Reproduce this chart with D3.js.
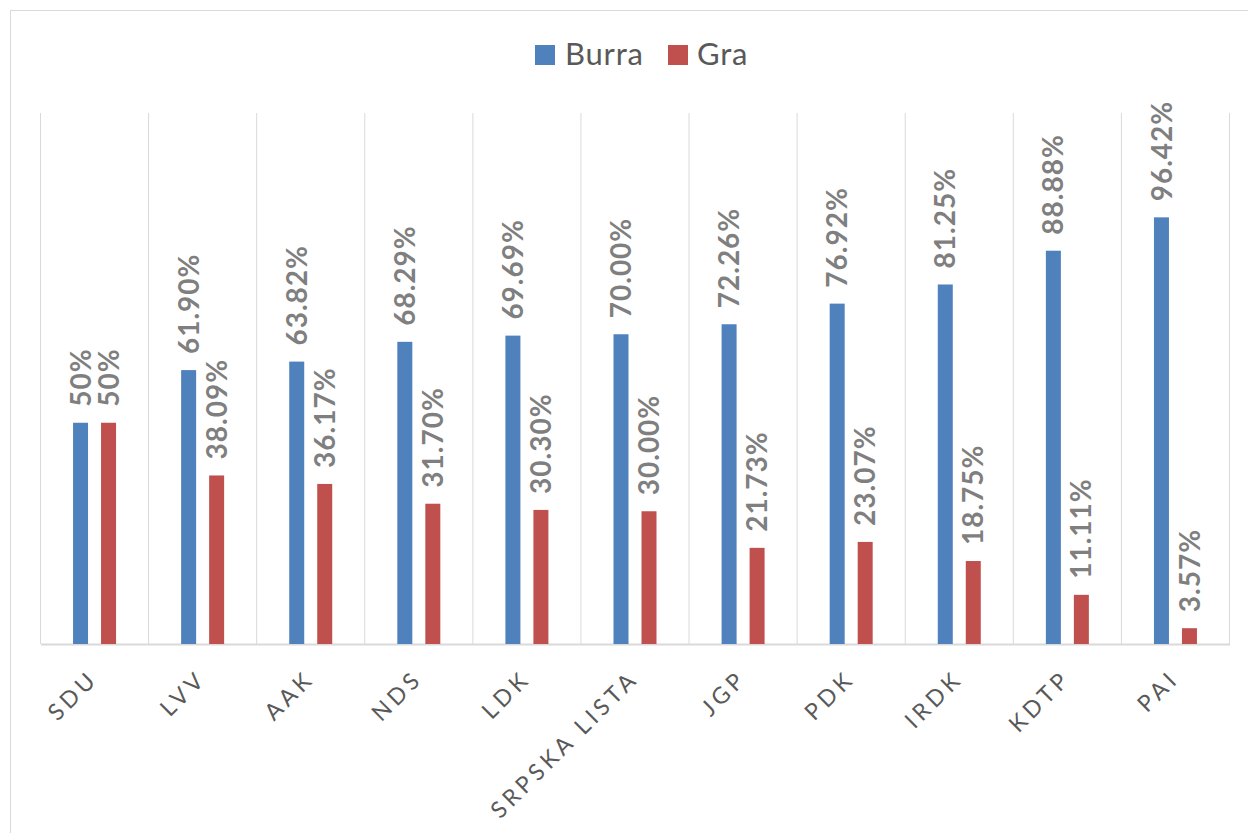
<!DOCTYPE html>
<html>
<head>
<meta charset="utf-8">
<script src="https://cdn.jsdelivr.net/npm/d3@7"></script>
<style>
  html, body { margin: 0; padding: 0; background: #fff; }
  svg { display: block; }
</style>
</head>
<body>
<script>
const categories = ["SDU", "LVV", "AAK", "NDS", "LDK", "SRPSKA LISTA", "JGP", "PDK", "IRDK", "KDTP", "PAI"];
const burra = [50, 61.90, 63.82, 68.29, 69.69, 70.00, 72.26, 76.92, 81.25, 88.88, 96.42];
const gra = [50, 38.09, 36.17, 31.70, 30.30, 30.00, 21.73, 23.07, 18.75, 11.11, 3.57];
const seriesNames = ["Burra", "Gra"];
const yMax = 120;

(function () {
const W = 1248, H = 833;
const colors = ["#4f81bd", "#c0504d"];
const fmt = v => (v === 50 ? "50" : v.toFixed(2)) + "%";

const svg = d3.select("body").append("svg").attr("width", W).attr("height", H);

// outer border
svg.append("rect").attr("x", 10.5).attr("y", 10.5).attr("width", W + 10).attr("height", H + 10)
  .attr("fill", "#fff").attr("stroke", "#d9d9d9").attr("stroke-width", 1);

const plotL = 40.5, plotR = 1229.5, plotT = 113, plotB = 644;

const x = d3.scaleBand().domain(categories).range([plotL, plotR]).paddingInner(0).paddingOuter(0);
const y = d3.scaleLinear().domain([0, yMax]).range([plotB, plotT]);

// vertical gridlines at category boundaries
const bounds = categories.map(c => x(c)).concat([plotR]);
svg.append("g").selectAll("line").data(bounds).join("line")
  .attr("x1", d => d).attr("x2", d => d)
  .attr("y1", plotT).attr("y2", plotB)
  .attr("stroke", "#d9d9d9").attr("stroke-width", 1);

// baseline axis
const xAxis = d3.axisBottom(x).tickSize(0).tickPadding(0).tickFormat("");
const axG = svg.append("g").attr("transform", `translate(0,${plotB})`).call(xAxis);
axG.select(".domain").attr("stroke", "#d9d9d9").attr("stroke-width", 2);

const barW = 15, offset = 14;
const series = [burra, gra];

series.forEach((vals, si) => {
  const dx = si === 0 ? -offset : offset;
  const g = svg.append("g");
  g.selectAll("rect").data(vals).join("rect")
    .attr("x", (d, i) => x(categories[i]) + x.bandwidth() / 2 + dx - barW / 2)
    .attr("y", d => y(d))
    .attr("width", barW)
    .attr("height", d => plotB - y(d))
    .attr("fill", colors[si]);
  g.selectAll("text").data(vals).join("text")
    .attr("transform", (d, i) => `translate(${x(categories[i]) + x.bandwidth() / 2 + dx},${y(d) - 16}) rotate(-90)`)
    .attr("dy", "0.36em")
    .attr("text-anchor", "start")
    .attr("font-family", "Lato, 'Open Sans', sans-serif")
    .attr("font-weight", "bold")
    .attr("font-size", 28)
    .attr("letter-spacing", "1px")
    .attr("fill", "#7f7f7f")
    .text(d => fmt(d));
});

// category labels
svg.append("g").selectAll("text").data(categories).join("text")
  .attr("transform", c => `translate(${x(c) + x.bandwidth() / 2 + 5},${plotB + 36}) rotate(-45)`)
  .attr("text-anchor", "end")
  .attr("font-family", "Lato, 'Open Sans', sans-serif")
  .attr("font-size", 23)
  .attr("letter-spacing", "4.2px")
  .attr("fill", "#595959")
  .text(c => c);

// legend
const legend = svg.append("g");
const legItems = [{ x: 535, tx: 565 }, { x: 668, tx: 697 }];
seriesNames.forEach((n, i) => {
  legend.append("rect").attr("x", legItems[i].x).attr("y", 45).attr("width", 20).attr("height", 20).attr("fill", colors[i]);
  legend.append("text").attr("x", legItems[i].tx).attr("y", 65)
    .attr("font-family", "Lato, 'Open Sans', sans-serif").attr("font-size", 31)
    .attr("letter-spacing", "0.8px")
    .attr("fill", "#595959").text(n);
});
})();
</script>
</body>
</html>
